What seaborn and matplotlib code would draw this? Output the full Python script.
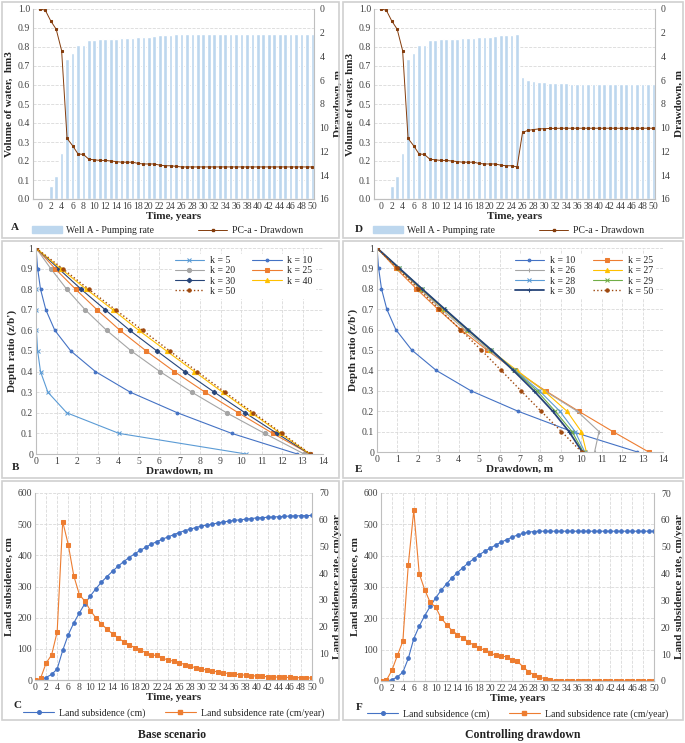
#!/usr/bin/env python3
"""Drawdown / subsidence figure: base scenario vs controlling drawdown."""

import matplotlib.pyplot as plt
import matplotlib.patches as mpatches
from matplotlib.lines import Line2D
from matplotlib.ticker import FuncFormatter
import pandas as pd
import seaborn as sns

YEARS = list(range(51))

PUMP_BASE = [0.0, 0.005, 0.07, 0.12, 0.24, 0.735, 0.77, 0.81, 0.81, 0.838, 0.838,
             0.84, 0.84, 0.84, 0.842, 0.845, 0.847, 0.847, 0.852, 0.855, 0.855,
             0.857, 0.865, 0.865, 0.865, 0.87, 0.87, 0.87, 0.87, 0.87, 0.87,
             0.87, 0.87, 0.87, 0.87, 0.87, 0.87, 0.87, 0.87, 0.87, 0.87,
             0.87, 0.87, 0.87, 0.87, 0.87, 0.87, 0.87, 0.87, 0.87, 0.87]
DRAW_BASE = [0.0, 0.1, 1.0, 1.7, 3.5, 10.9, 11.5, 12.2, 12.25, 12.65, 12.7,
             12.75, 12.75, 12.8, 12.85, 12.9, 12.9, 12.9, 13.0, 13.05, 13.05,
             13.05, 13.15, 13.2, 13.2, 13.25, 13.3, 13.3, 13.3, 13.3, 13.3,
             13.3, 13.3, 13.3, 13.3, 13.3, 13.3, 13.3, 13.3, 13.3, 13.3,
             13.3, 13.3, 13.3, 13.3, 13.3, 13.3, 13.3, 13.3, 13.3, 13.3]
PUMP_CTRL = [0.0, 0.005, 0.07, 0.12, 0.24, 0.735, 0.77, 0.81, 0.81, 0.838, 0.838,
             0.84, 0.84, 0.84, 0.842, 0.845, 0.847, 0.847, 0.852, 0.855, 0.855,
             0.857, 0.865, 0.865, 0.865, 0.87, 0.64, 0.628, 0.622, 0.618, 0.614,
             0.612, 0.611, 0.609, 0.608, 0.607, 0.607, 0.607, 0.606, 0.606, 0.605,
             0.604, 0.604, 0.604, 0.604, 0.604, 0.604, 0.604, 0.604, 0.604, 0.604]
DRAW_CTRL = [0.0, 0.1, 1.0, 1.7, 3.5, 10.9, 11.5, 12.2, 12.25, 12.65, 12.7,
             12.75, 12.75, 12.8, 12.85, 12.9, 12.9, 12.9, 13.0, 13.05, 13.05,
             13.05, 13.15, 13.2, 13.2, 13.3, 10.4, 10.22, 10.15, 10.1, 10.08,
             10.06, 10.05, 10.04, 10.04, 10.04, 10.04, 10.04, 10.04, 10.04, 10.04,
             10.04, 10.04, 10.04, 10.04, 10.04, 10.04, 10.04, 10.04, 10.04, 10.04]

DEPTH = [1.0, 0.9, 0.8, 0.7, 0.6, 0.5, 0.4, 0.3, 0.2, 0.1, 0.0]

B_K5 = [0, 0, 0, 0, 0.02, 0.08, 0.22, 0.58, 1.5, 4.05, 10.25]
B_K10 = [0, 0.08, 0.22, 0.48, 0.92, 1.7, 2.9, 4.6, 6.9, 9.55, 12.75]
B_K20 = [0, 0.72, 1.5, 2.4, 3.45, 4.65, 6.05, 7.6, 9.3, 11.15, 13.08]
B_K25 = [0, 0.93, 1.93, 2.98, 4.1, 5.38, 6.75, 8.25, 9.87, 11.55, 13.35]
B_K30 = [0, 1.1, 2.2, 3.38, 4.58, 5.9, 7.25, 8.7, 10.2, 11.75, 13.35]
B_K40 = [0, 1.2, 2.45, 3.75, 5.02, 6.37, 7.73, 9.1, 10.5, 11.93, 13.36]
B_K50 = [0, 1.3, 2.57, 3.88, 5.2, 6.53, 7.87, 9.22, 10.6, 12.0, 13.38]

E_K10 = [0, 0.08, 0.22, 0.48, 0.92, 1.7, 2.9, 4.6, 6.9, 9.55, 12.75]
E_K25 = [0, 0.93, 1.93, 2.98, 4.1, 5.38, 6.75, 8.25, 9.87, 11.55, 13.3]
E_K26 = [0, 1.05, 2.1, 3.15, 4.3, 5.45, 6.75, 8.2, 9.8, 10.87, 10.65]
E_K27 = [0, 1.05, 2.15, 3.25, 4.4, 5.55, 6.85, 8.17, 9.3, 10.0, 10.25]
E_K28 = [0, 1.08, 2.18, 3.28, 4.42, 5.58, 6.75, 7.95, 8.95, 9.7, 10.17]
E_K29 = [0, 1.1, 2.2, 3.3, 4.44, 5.6, 6.72, 7.83, 8.72, 9.55, 10.1]
E_K30 = [0, 1.1, 2.2, 3.32, 4.45, 5.6, 6.67, 7.68, 8.6, 9.4, 10.05]
E_K50 = [0, 1.0, 2.03, 3.05, 4.08, 5.1, 6.08, 7.05, 8.03, 9.03, 10.02]

SUB_BASE = [0, 1, 8, 18, 35, 95, 145, 183, 215, 245, 270,
            293, 314, 332, 349, 365, 380, 393, 405, 416, 426,
            436, 444, 452, 459, 466, 473, 479, 484, 489, 494,
            497, 500, 504, 507, 510, 512, 514, 516, 518, 520,
            521, 522, 523, 524, 525, 526, 526.5, 527, 527.5, 528]
RATE_BASE = [0, 0.6, 6.3, 9.4, 18, 59.3, 50.7, 39, 32, 29.5, 26,
             23.2, 21, 19, 17.3, 15.8, 14.3, 13.2, 12.1, 11.2, 10.2,
             9.2, 9.3, 8.3, 7.4, 7.1, 6.5, 5.8, 5.1, 4.6, 4.1,
             3.7, 3.4, 3.0, 2.7, 2.4, 2.2, 2.0, 1.8, 1.6, 1.5,
             1.35, 1.25, 1.15, 1.05, 1.0, 0.95, 0.9, 0.85, 0.8, 0.75]
SUB_CTRL = [0, 0, 4, 13, 28, 72, 135, 175, 208, 238, 265,
            289, 310, 329, 346, 362, 377, 390, 403, 414, 424,
            434, 443, 451, 459, 466, 471, 475, 477, 478, 478,
            478, 478, 478, 478, 478, 478, 478, 478, 478, 478,
            478, 478, 478, 478, 478, 478, 478, 478, 478, 478]
RATE_CTRL = [0, 0.3, 4.0, 9.5, 14.8, 43.3, 63.5, 40, 34, 29.3, 27.5,
             23.5, 21, 18.8, 17.3, 16, 14.6, 13.3, 12.2, 11.5, 10.5,
             9.5, 9.3, 9.0, 8.0, 7.3, 5.3, 3.5, 2.3, 1.5, 0.8,
             0.4, 0.15, 0, 0, 0, 0, 0, 0, 0, 0,
             0, 0, 0, 0, 0, 0, 0, 0, 0, 0]

W, H = 685, 743
BAR_BLUE = "#bdd7ee"
BROWN = "#843c0c"
BLUE = "#4472c4"
ORANGE = "#ed7d31"
GRID = "#d9d9d9"
TXT = "#404040"
FS = 7
LBL = 8


def rect(left, top, right, bottom):
    """pixel box -> figure fraction"""
    return [left / W, 1 - bottom / H, (right - left) / W, (bottom - top) / H]


def style_axes(ax, right=False):
    for side in ["top"] + ([] if right else ["right"]):
        ax.spines[side].set_visible(False)
    for s in ax.spines.values():
        s.set_color("#bfbfbf")
        s.set_linewidth(0.8)
    ax.tick_params(labelsize=FS, labelcolor=TXT, length=0, pad=2)


def gen_fmt(v, _):
    return f"{v:g}"


def draw_pumping(fig, box, pump, draw, ylab):
    ax = fig.add_axes(rect(*box))
    df = pd.DataFrame({"year": YEARS, "pump": pump, "draw": draw})
    sns.barplot(data=df, x="year", y="pump", native_scale=True, width=0.68,
                color=BAR_BLUE, saturation=1, ax=ax)
    ax.set_xlim(-1.25, 50.3)
    ax.set_ylim(0, 1)
    ax.set_yticks([i / 10 for i in range(11)])
    ax.yaxis.set_major_formatter(FuncFormatter(lambda v, _: f"{v:.1f}"))
    ax.set_xticks(range(0, 51, 2))
    ax.grid(axis="y", color=GRID, ls="--", lw=0.6)
    ax.set_axisbelow(True)
    style_axes(ax)
    ax.set_xlabel("Time, years", fontsize=LBL, fontweight="bold", labelpad=1)
    ax.set_ylabel(ylab, fontsize=LBL, fontweight="bold", labelpad=3)

    ax2 = ax.twinx()
    sns.lineplot(data=df, x="year", y="draw", ax=ax2, color=BROWN, lw=0.7,
                 marker="s", markersize=1.9, markeredgecolor=BROWN)
    ax2.set_ylim(16, 0)
    ax2.set_yticks(range(0, 17, 2))
    style_axes(ax2, right=True)
    ax2.tick_params(axis="y", pad=4)
    ax2.spines["left"].set_visible(False)
    ax2.set_ylabel("Drawdown, m", fontsize=LBL, fontweight="bold", labelpad=3)

    handles = [mpatches.Patch(color=BAR_BLUE),
               Line2D([], [], color=BROWN, lw=0.7, marker="s", markersize=1.9)]
    ax.legend(handles, ["Well A - Pumping rate", "PC-a - Drawdown"], loc="center",
              bbox_to_anchor=(0.48, -0.165), ncol=2, frameon=False, fontsize=FS,
              columnspacing=4.5, handlelength=3.0, handleheight=0.6,
              handletextpad=0.5)
    return ax


def draw_profile(fig, box, series, order):
    ax = fig.add_axes(rect(*box))
    for label, vals, color, marker, ls, lw, ms in series:
        sns.lineplot(x=vals, y=DEPTH, sort=False, estimator=None, ax=ax,
                     color=color, marker=marker, linestyle=ls, lw=lw,
                     markersize=ms, markeredgecolor=color, label=label)
    ax.set_xlim(0, 14)
    ax.set_ylim(0, 1)
    ax.set_xticks(range(15))
    ax.set_yticks([i / 10 for i in range(11)])
    ax.yaxis.set_major_formatter(FuncFormatter(gen_fmt))
    ax.grid(color=GRID, ls="--", lw=0.6)
    style_axes(ax)
    ax.set_xlabel("Drawdown, m", fontsize=LBL, fontweight="bold", labelpad=1)
    ax.set_ylabel("Depth ratio (z/b')", fontsize=LBL, fontweight="bold", labelpad=3)
    h, l = ax.get_legend_handles_labels()
    ax.legend([h[i] for i in order], [l[i] for i in order], loc="upper right",
              bbox_to_anchor=(0.99, 0.995), ncol=2, frameon=True, facecolor="white",
              edgecolor="white", framealpha=1, fontsize=FS, handlelength=3.0,
              columnspacing=1.8, labelspacing=0.12, borderpad=0.25,
              handletextpad=0.6)
    return ax


def draw_subsidence(fig, box, sub, rate):
    ax = fig.add_axes(rect(*box))
    df = pd.DataFrame({"year": YEARS, "sub": sub, "rate": rate})
    sns.lineplot(data=df, x="year", y="sub", ax=ax, color=BLUE, lw=0.8,
                 marker="o", markersize=2.6, markeredgecolor=BLUE)
    ax.set_xlim(0, 50)
    ax.set_ylim(0, 600)
    ax.set_xticks(range(0, 51, 2))
    ax.set_yticks(range(0, 601, 100))
    ax.grid(color=GRID, ls="--", lw=0.6)
    style_axes(ax)
    ax.set_xlabel("Time, years", fontsize=LBL, fontweight="bold", labelpad=1)
    ax.set_ylabel("Land subsidence, cm", fontsize=LBL, fontweight="bold", labelpad=3)

    ax2 = ax.twinx()
    sns.lineplot(data=df, x="year", y="rate", ax=ax2, color=ORANGE, lw=0.8,
                 marker="s", markersize=2.6, markeredgecolor=ORANGE)
    ax2.set_ylim(0, 70)
    ax2.set_yticks(range(0, 71, 10))
    style_axes(ax2, right=True)
    ax2.tick_params(axis="y", pad=5)
    ax2.spines["left"].set_visible(False)
    ax2.set_ylabel("Land subsidence rate, cm/year", fontsize=LBL,
                   fontweight="bold", labelpad=3)

    handles = [Line2D([], [], color=BLUE, lw=0.8, marker="o", markersize=2.6),
               Line2D([], [], color=ORANGE, lw=0.8, marker="s", markersize=2.6)]
    ax.legend(handles, ["Land subsidence (cm)", "Land subsidence rate (cm/year)"],
              loc="center", bbox_to_anchor=(0.5, -0.175), ncol=2, frameon=False,
              fontsize=FS, columnspacing=2.0, handlelength=3.2, handletextpad=0.5)
    return ax


def main():
    sns.set_theme(style="white")
    plt.rcParams["font.family"] = ["Liberation Serif", "DejaVu Serif"]

    fig = plt.figure(figsize=(W / 100, H / 100), dpi=100)

    # panel frames
    for x0, x1 in [(2, 339), (343, 683)]:
        for y0, y1 in [(2, 238), (241, 478), (481, 720)]:
            fig.add_artist(mpatches.Rectangle((x0 / W, 1 - y1 / H), (x1 - x0) / W,
                                              (y1 - y0) / H, transform=fig.transFigure,
                                              fill=False, ec="#d0d0d0", lw=1.2))

    draw_pumping(fig, (33, 9, 314, 199), PUMP_BASE, DRAW_BASE, "Volume of water,  hm3")
    draw_pumping(fig, (374, 9, 655, 199), PUMP_CTRL, DRAW_CTRL, "Volume of water, hm3")

    b_series = [
        ("k = 5", B_K5, "#5b9bd5", "x", "-", 0.8, 3.5),
        ("k = 10", B_K10, BLUE, "o", "-", 0.8, 2.0),
        ("k = 20", B_K20, "#a5a5a5", "o", "-", 0.8, 3.0),
        ("k = 25", B_K25, ORANGE, "s", "-", 0.8, 2.6),
        ("k = 30", B_K30, "#264478", "P", "-", 0.8, 3.0),
        ("k = 40", B_K40, "#ffc000", "^", "-", 0.8, 3.0),
        ("k = 50", B_K50, "#9e480e", "o", ":", 1.0, 2.4),
    ]
    draw_profile(fig, (36, 248, 323, 454), b_series, [0, 2, 4, 6, 1, 3, 5])

    e_series = [
        ("k = 10", E_K10, BLUE, "o", "-", 0.8, 2.0),
        ("k = 25", E_K25, ORANGE, "s", "-", 0.8, 2.6),
        ("k = 26", E_K26, "#a5a5a5", "+", "-", 0.8, 3.5),
        ("k = 27", E_K27, "#ffc000", "^", "-", 0.8, 3.0),
        ("k = 28", E_K28, "#5b9bd5", "x", "-", 0.8, 3.0),
        ("k = 29", E_K29, "#70ad47", "x", "-", 0.8, 3.0),
        ("k = 30", E_K30, "#264478", "+", "-", 1.3, 3.5),
        ("k = 50", E_K50, "#9e480e", "o", ":", 1.0, 2.4),
    ]
    draw_profile(fig, (377, 248, 663, 452), e_series, [0, 2, 4, 6, 1, 3, 5, 7])

    draw_subsidence(fig, (35, 493, 312, 680), SUB_BASE, RATE_BASE)
    draw_subsidence(fig, (381, 493, 654, 681), SUB_CTRL, RATE_CTRL)

    for letter, (px, py) in {"A": (15, 228), "D": (359, 229), "B": (15, 468),
                             "E": (359, 469), "C": (18, 706), "F": (359, 707)}.items():
        fig.text(px / W, 1 - py / H, letter, fontsize=LBL, fontweight="bold",
                 ha="center", va="center", color="#222222")

    fig.text(172 / W, 1 - 735 / H, "Base scenario", fontsize=8.5, fontweight="bold",
             ha="center", va="center", color="#222222")
    fig.text(523 / W, 1 - 735 / H, "Controlling drawdown", fontsize=8.5,
             fontweight="bold", ha="center", va="center", color="#222222")

    fig.savefig("out.png", dpi=100)


if __name__ == "__main__":
    main()
